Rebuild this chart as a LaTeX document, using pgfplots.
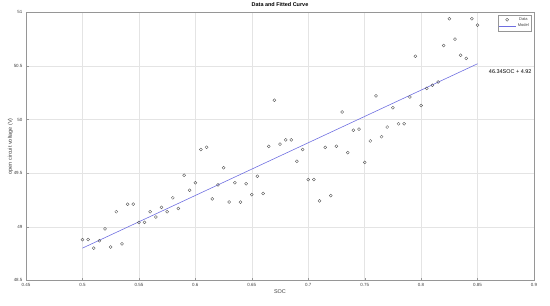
\documentclass[border=0pt]{standalone}
\usepackage{pgfplots}
\pgfplotsset{compat=1.18}
\usepackage{fontspec}
\setmainfont{Liberation Sans}
\pgfplotstableread{
soc v
0.5 48.88
0.505 48.88
0.51 48.80
0.515 48.87
0.52 48.98
0.525 48.81
0.53 49.14
0.535 48.84
0.54 49.21
0.545 49.21
0.55 49.04
0.555 49.04
0.56 49.14
0.565 49.09
0.57 49.18
0.575 49.14
0.58 49.27
0.585 49.17
0.59 49.48
0.595 49.34
0.6 49.41
0.605 49.72
0.61 49.74
0.615 49.26
0.62 49.39
0.625 49.55
0.63 49.23
0.635 49.41
0.64 49.23
0.645 49.40
0.65 49.30
0.655 49.47
0.66 49.31
0.665 49.75
0.67 50.18
0.675 49.77
0.68 49.81
0.685 49.81
0.69 49.61
0.695 49.72
0.7 49.44
0.705 49.44
0.71 49.24
0.715 49.74
0.72 49.29
0.725 49.75
0.73 50.07
0.735 49.69
0.74 49.90
0.745 49.91
0.75 49.60
0.755 49.80
0.76 50.22
0.765 49.84
0.77 49.93
0.775 50.11
0.78 49.96
0.785 49.96
0.79 50.21
0.795 50.59
0.8 50.13
0.805 50.29
0.81 50.32
0.815 50.35
0.82 50.69
0.825 50.94
0.83 50.75
0.835 50.60
0.84 50.57
0.845 50.94
0.85 50.88
}\datatable
\pgfplotstableread{
soc v
0.5 48.80
0.85 50.52
}\modeltable
\definecolor{modelblue}{RGB}{110,110,225}
\definecolor{gridgray}{RGB}{228,228,228}
\definecolor{axgray}{RGB}{150,150,150}
\begin{document}
\begin{tikzpicture}
\useasboundingbox (-26bp,-25bp) rectangle (524bp,280.3bp);
\begin{axis}[
  at={(0,0)}, anchor=south west,
  scale only axis,
  width=508bp, height=268bp,
  xmin=0.45, xmax=0.9, ymin=48.5, ymax=51,
  xtick={0.45,0.5,...,0.9}, ytick={48.5,49,...,51},
  xticklabels={0.45,0.5,0.55,0.6,0.65,0.7,0.75,0.8,0.85,0.9},
  yticklabels={48.5,49,49.5,50,50.5,51},
  grid=major,
  major grid style={gridgray, line width=0.4pt},
  axis line style={axgray, line width=0.8pt},
  tick style={axgray},
  major tick length=2.5bp,
  tick align=inside,
  xtick pos=bottom, ytick pos=left,
  ticklabel style={font=\fontsize{4.5}{5}\selectfont, text=black!75},
  title={\textbf{Data and Fitted Curve}},
  title style={font=\fontsize{5.5}{6}\selectfont, yshift=-4bp},
  xlabel={SOC},
  ylabel={open circuit voltage (V)},
  label style={font=\fontsize{5.5}{6}\selectfont, text=black!75},
  xlabel style={yshift=4bp},
  ylabel style={yshift=-6bp},
  legend pos=north east,
  legend style={font=\fontsize{4}{4.5}\selectfont, draw=axgray, inner sep=0.5pt, row sep=-2pt, text=black!75, at={(0.995,0.99)}},
]
\addplot[only marks, mark=o, mark size=1.5bp, draw=black!70, line width=0.35pt] table[x=soc,y=v]{\datatable};
\addlegendentry{Data}
\addplot[modelblue, line width=0.6pt] table[x=soc,y=v]{\modeltable};
\addlegendentry{Model}
\node[anchor=west, font=\fontsize{5.5}{6}\selectfont] at (axis cs:0.857,50.45) {46.34SOC + 4.92};
\end{axis}
\end{tikzpicture}
\end{document}
